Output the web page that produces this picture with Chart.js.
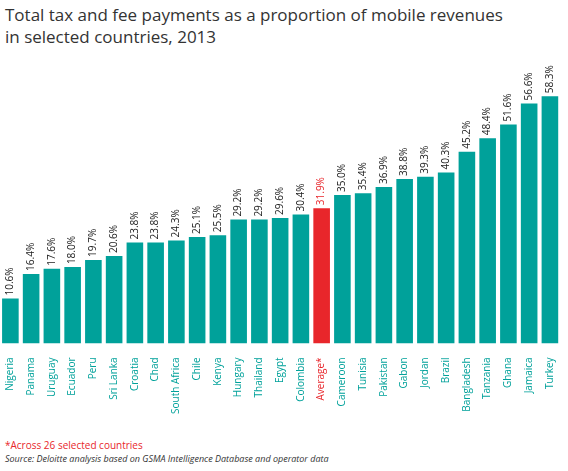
<!DOCTYPE html><html><head><meta charset="utf-8">
<script src="https://cdn.jsdelivr.net/npm/chart.js@4"></script>
<style>
body{margin:0;width:568px;height:471px;background:#fff;font-family:"Open Sans",sans-serif;position:relative;overflow:hidden}
#t{position:absolute;left:5px;top:4px;font-size:17px;line-height:22px;color:#333}
#w{position:absolute;left:0;top:0;width:568px;height:420px}
#f1{position:absolute;left:5px;top:438px;font-size:10px;color:#e8262b}
#f2{position:absolute;left:5px;top:452px;font-size:9px;color:#333;font-style:italic}
</style></head><body>
<div id="t">Total tax and fee payments as a proportion of mobile revenues<br>in selected countries, 2013</div>
<div id="w"><canvas id="c"></canvas></div>
<div id="f1">*Across 26 selected countries</div>
<div id="f2">Source: Deloitte analysis based on GSMA Intelligence Database and operator data</div>
<script>
const categories=["Nigeria","Panama","Uruguay","Ecuador","Peru","Sri Lanka","Croatia","Chad","South Africa","Chile","Kenya","Hungary","Thailand","Egypt","Colombia","Average*","Cameroon","Tunisia","Pakistan","Gabon","Jordan","Brazil","Bangladesh","Tanzania","Ghana","Jamaica","Turkey"];
const values=[10.6,16.4,17.6,18.0,19.7,20.6,23.8,23.8,24.3,25.1,25.5,29.2,29.2,29.6,30.4,31.9,35.0,35.4,36.9,38.8,39.3,40.3,45.2,48.4,51.6,56.6,58.3];
const labels=["10.6%","16.4%","17.6%","18.0%","19.7%","20.6%","23.8%","23.8%","24.3%","25.1%","25.5%","29.2%","29.2%","29.6%","30.4%","31.9%","35.0%","35.4%","36.9%","38.8%","39.3%","40.3%","45.2%","48.4%","51.6%","56.6%","58.3%"];
const TEAL="#00a19a",RED="#e8262b";
const isAvg=c=>c==="Average*";
const valPlugin={id:"v",afterDatasetsDraw(ch){const ctx=ch.ctx;const m=ch.getDatasetMeta(0);ctx.save();ctx.font="10px 'Open Sans'";ctx.textAlign="left";ctx.textBaseline="middle";
m.data.forEach((b,i)=>{ctx.save();ctx.translate(b.x,b.y-3);ctx.rotate(-Math.PI/2);ctx.fillStyle=isAvg(categories[i])?RED:"#222";ctx.fillText(labels[i],0,0);ctx.restore();});ctx.restore();}};
new Chart(document.getElementById("c"),{type:"bar",data:{labels:categories,datasets:[{data:values,backgroundColor:categories.map(c=>isAvg(c)?RED:TEAL),barPercentage:0.8,categoryPercentage:1}]},
options:{responsive:true,maintainAspectRatio:false,animation:false,layout:{padding:{top:89,left:0,right:5}},
plugins:{legend:{display:false},tooltip:{enabled:false}},
scales:{y:{display:false,min:0,max:60},x:{grid:{display:false},border:{display:false},ticks:{minRotation:90,maxRotation:90,autoSkip:false,padding:6,font:{size:10,family:"'Open Sans'"},color:ctx=>isAvg(categories[ctx.index])?RED:TEAL}}}},
plugins:[valPlugin]});
</script></body></html>
